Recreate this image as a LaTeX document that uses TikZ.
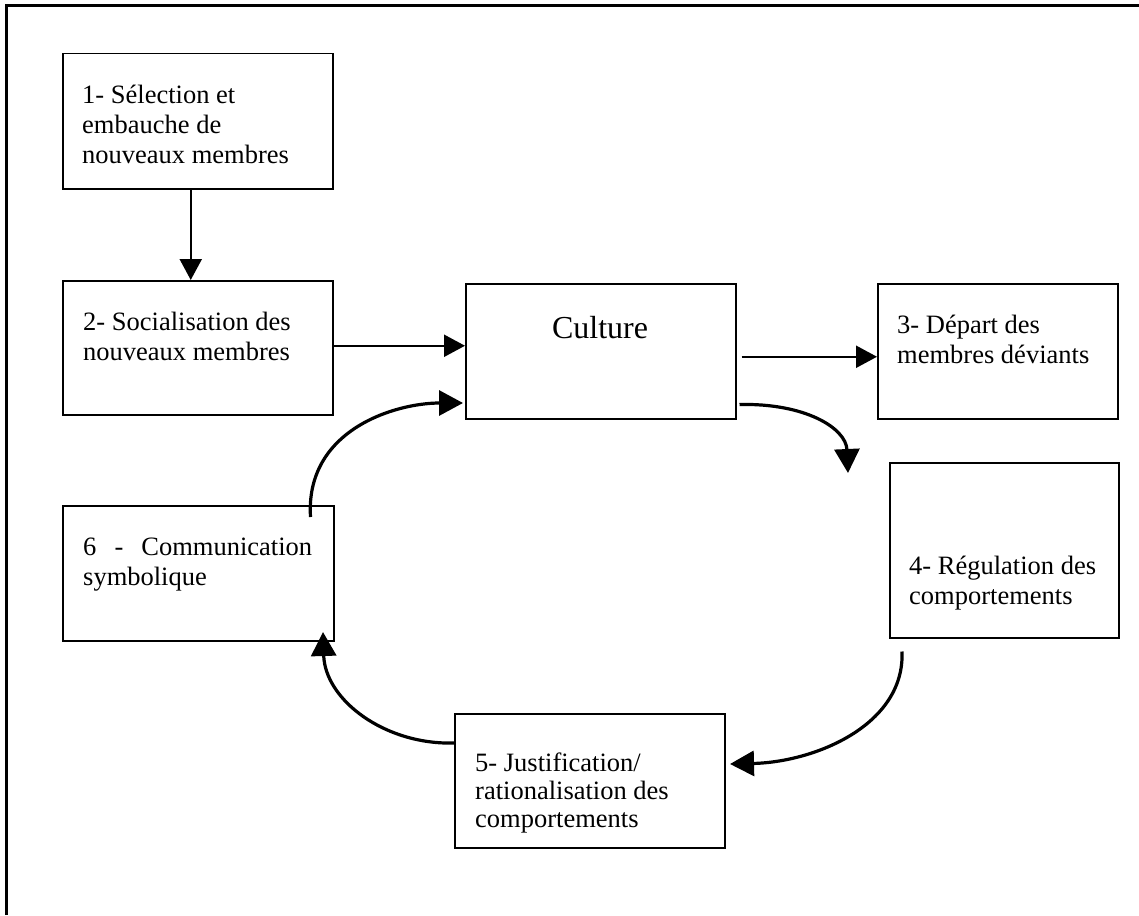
\documentclass[tikz,border=0pt]{standalone}
\usepackage{fontspec}
\setmainfont{Liberation Serif}
\usetikzlibrary{arrows.meta}
\tikzset{
  box/.style={draw, line width=1.5pt, anchor=north west, inner sep=0pt},
  txt/.style={anchor=base west, inner sep=0pt, font=\fontsize{26.5}{30}\selectfont},
  straight/.style={line width=2.2pt, -{Triangle[length=21pt,width=22pt]}},
  curved/.style={line width=3.2pt, -{Triangle[length=24pt,width=25pt]}},
}
\newcommand{\lns}[1]{\begin{tabular}[t]{@{}l@{}}#1\end{tabular}}
\begin{document}
\begin{tikzpicture}[x=1pt,y=-1pt]
\useasboundingbox (0,0) rectangle (1139,915);
% frame (top and left edges visible)
\draw[line width=3pt] (6,915) -- (6,6) -- (1139,6);

% boxes
\node[box, minimum width=270pt, minimum height=135pt] (b1) at (62,53) {};
\node[box, minimum width=270pt, minimum height=134pt] (b2) at (62,280) {};
\node[box, minimum width=270pt, minimum height=135pt] (cul) at (465,283) {};
\node[box, minimum width=240pt, minimum height=135pt] (b3) at (877,283) {};
\node[box, minimum width=229pt, minimum height=175pt] (b4) at (889,462) {};
\node[box, minimum width=270pt, minimum height=134pt] (b5) at (454,713) {};
\node[box, minimum width=271pt, minimum height=135pt] (b6) at (62,505) {};

% texts
\node[txt] (t1) at (82,103) {\lns{1- Sélection et\\embauche de\\nouveaux membres}};
\node[txt] (t2) at (83,330) {\lns{2- Socialisation des\\nouveaux membres}};
\node[anchor=base, inner sep=0pt, font=\fontsize{32}{36}\selectfont] (tc) at (600,338) {Culture};
\node[txt] (t3) at (897,333) {\lns{3- Départ des\\membres déviants}};
\node[txt] (t4) at (909,574) {\lns{4- Régulation des\\comportements}};
\node[txt, font=\fontsize{26.5}{28}\selectfont] (t5) at (475,771) {\lns{5- Justification/\\rationalisation des\\comportements}};
\node[txt] (t6) at (83,555) {\lns{\makebox[229pt][s]{6 - Communication}\\symbolique}};

% free ends
\coordinate (e1) at (848,473);
\coordinate (e2) at (730,764);
\coordinate (e3) at (323,632);
\coordinate (e4) at (463,403);

% straight connectors
\draw[straight] ([xshift=-7pt]b1.south) -- ([xshift=-7pt]b2.north);
\draw[straight] ([yshift=2pt]b2.east) -- ([yshift=2pt]b2.east -| cul.west);
\draw[straight] ([xshift=5pt,yshift=-5.5pt]cul.east) -- ([yshift=-5.5pt]cul.east -| b3.west);

% curved connectors
\draw[curved] ([xshift=3pt,yshift=15pt]cul.south east) .. controls (805,403) and (846,428) .. (e1);
\draw[curved] ([xshift=13pt,yshift=-13pt]b4.south west) .. controls (905,725) and (815,762) .. (e2);
\draw[curved] ([yshift=-30pt]b5.north west) .. controls (385,745) and (325,700) .. (e3);
\draw[curved] ([xshift=-24pt,yshift=-12pt]b6.north east) .. controls (305,430) and (395,403) .. (e4);
\end{tikzpicture}
\end{document}
